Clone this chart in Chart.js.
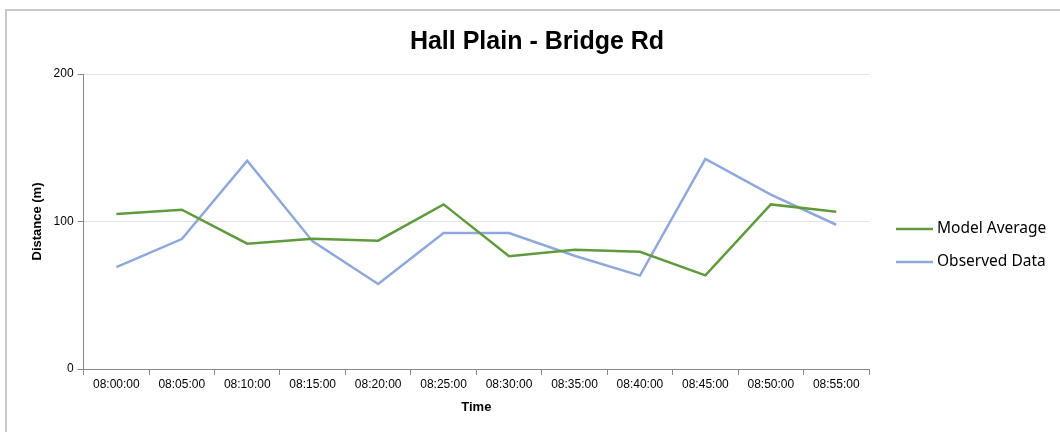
<!DOCTYPE html>
<html>
<head>
<meta charset="utf-8">
<script src="https://cdn.jsdelivr.net/npm/chart.js@4.4.1/dist/chart.umd.min.js"></script>
<style>
  body { margin: 0; background: #fff; overflow: hidden; }
  #frame { position: absolute; left: 5px; top: 9px; width: 1100px; height: 500px; border: 2px solid #c8c8c8; }
  #wrap { position: absolute; left: 0; top: 0; width: 1060px; height: 432px; }
</style>
</head>
<body>
<div id="frame"></div>
<div id="wrap"><canvas id="distChart" width="1060" height="432"></canvas></div>
<script>
// Time slots on the x axis
const times = ['08:00:00', '08:05:00', '08:10:00', '08:15:00', '08:20:00', '08:25:00',
               '08:30:00', '08:35:00', '08:40:00', '08:45:00', '08:50:00', '08:55:00'];

// Distance values (m)
const modelAverage = [105.1, 108, 85, 88.3, 87, 111.6, 76.4, 80.9, 79.5, 63.5, 111.6, 106.6];
const observedData = [69.1, 88.1, 141.2, 86.5, 57.6, 92.2, 92.2, 76.8, 63.3, 142.4, 118.2, 97.8];

const yTicks = [0, 100, 200];

const green = 'rgb(95, 154, 60)';
const blue = 'rgb(143, 168, 220)';

// Legend drawn to the right of the plot, Excel style (line then label)
const sideLegend = {
  id: 'sideLegend',
  afterDraw(chart) {
    const c = chart.ctx;
    const area = chart.chartArea;
    const mid = (area.top + area.bottom) / 2 + 24;
    c.save();
    c.font = '15.5px "Noto Sans"';
    c.textBaseline = 'middle';
    c.fillStyle = '#000';
    chart.data.datasets.forEach((ds, i) => {
      const y = mid + (i - 0.5) * 33;
      c.strokeStyle = ds.borderColor;
      c.lineWidth = 2.5;
      c.beginPath();
      c.moveTo(area.right + 27, y);
      c.lineTo(area.right + 64, y);
      c.stroke();
      c.fillText(ds.label, area.right + 68, y);
    });
    c.restore();
  }
};

const ctx = document.getElementById('distChart').getContext('2d');
new Chart(ctx, {
  type: 'line',
  data: {
    labels: times,
    datasets: [{
      label: 'Model Average',
      data: modelAverage,
      borderColor: green,
      backgroundColor: green,
      borderWidth: 2.5,
      pointRadius: 0,
      tension: 0
    }, {
      label: 'Observed Data',
      data: observedData,
      borderColor: blue,
      backgroundColor: blue,
      borderWidth: 2.5,
      pointRadius: 0,
      tension: 0
    }]
  },
  plugins: [sideLegend],
  options: {
    responsive: false,
    animation: false,
    layout: { padding: { left: 26, right: 12, top: 12, bottom: 13 } },
    plugins: {
      title: {
        display: true,
        text: 'Hall Plain - Bridge Rd',
        color: '#000',
        font: { family: 'Liberation Sans', size: 25, weight: 'bold' },
        padding: { top: 15, bottom: 17 }
      },
      legend: { display: false },
      tooltip: { enabled: false }
    },
    scales: {
      x: {
        offset: true,
        title: {
          display: true,
          text: 'Time',
          color: '#000',
          font: { family: 'Liberation Sans', size: 13, weight: 'bold' },
          padding: { top: 6 }
        },
        grid: {
          offset: true,
          drawOnChartArea: false,
          tickLength: 6,
          tickColor: '#888'
        },
        border: { color: '#888', width: 1 },
        ticks: {
          color: '#000',
          maxRotation: 0,
          autoSkip: false,
          font: { family: 'Liberation Sans', size: 12 },
          padding: 2
        }
      },
      y: {
        min: 0,
        max: 200,
        afterBuildTicks: axis => { axis.ticks = yTicks.map(v => ({ value: v })); },
        title: {
          display: true,
          text: 'Distance (m)',
          color: '#000',
          font: { family: 'Liberation Sans', size: 13, weight: 'bold' },
          padding: { top: 4, bottom: 4 }
        },
        grid: {
          color: '#e3e3e3',
          tickColor: '#888',
          tickLength: 6
        },
        border: { color: '#888', width: 1 },
        ticks: {
          color: '#000',
          font: { family: 'Liberation Sans', size: 12 },
          padding: 4
        }
      },
      // empty right-hand axis that only reserves room for the legend
      legendSpace: {
        type: 'linear',
        position: 'right',
        grid: { display: false },
        border: { display: false },
        ticks: { display: false },
        afterFit: axis => { axis.width = 179; }
      }
    }
  }
});
</script>
</body>
</html>
